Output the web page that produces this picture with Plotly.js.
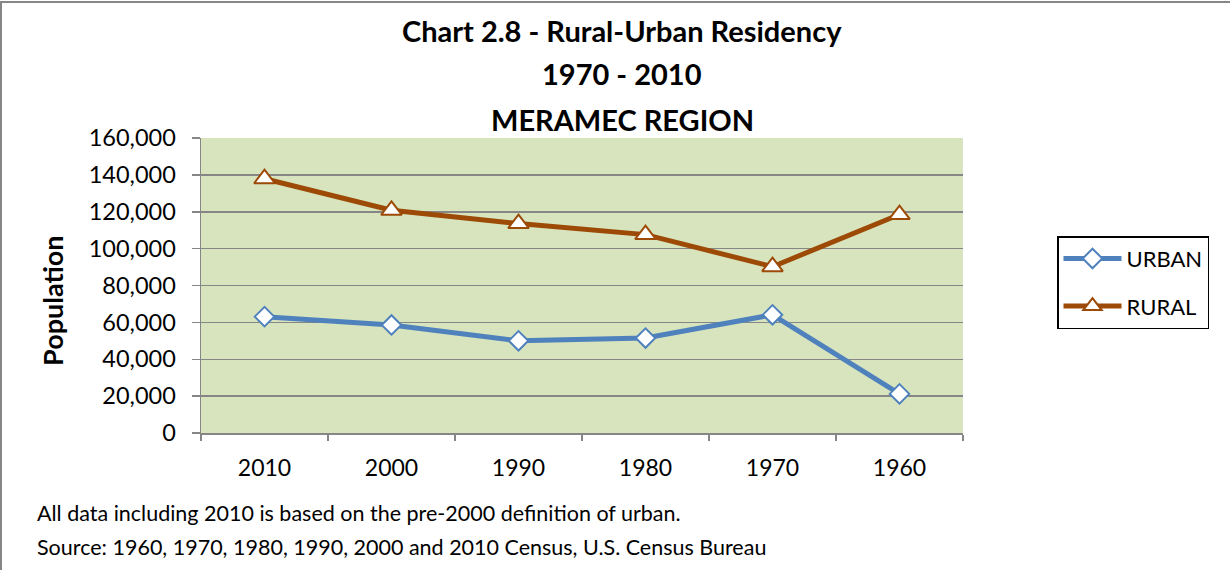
<!DOCTYPE html>
<html>
<head>
<meta charset="utf-8">
<script src="https://cdn.plot.ly/plotly-3.0.1.min.js"></script>
<style>html,body{margin:0;padding:0;background:#fff;}#chart{width:1230px;height:571px;}</style>
</head>
<body>
<div id="chart"></div>
<script>
const years = ["2010", "2000", "1990", "1980", "1970", "1960"];
const urban = [63100, 58600, 50000, 51500, 64100, 21200];
const rural = [137900, 120800, 113600, 107600, 90200, 118500];
const yTicks = [0, 20000, 40000, 60000, 80000, 100000, 120000, 140000, 160000];

const FONT = "Lato, 'Open Sans', sans-serif";
const L = 201, R = 963, T = 137.5, B = 433.5;
const px = x => (x - L) / (R - L);
const py = y => (B - y) / (B - T);

const traces = [
  {
    x: years, y: urban, name: "URBAN", type: "scatter", mode: "lines+markers", legendgroup: "u",
    line: {color: "#4F81BD", width: 5},
    marker: {symbol: "diamond", size: 15, color: "#ffffff", line: {color: "#4F81BD", width: 2}}
  },
  {
    x: years, y: rural, name: "RURAL", type: "scatter", mode: "lines+markers", legendgroup: "r",
    line: {color: "#9C4A06", width: 5},
    marker: {symbol: "triangle-up", size: 18, color: "#ffffff", line: {color: "#9C4A06", width: 2}}
  }
];

const layout = {
  width: 1230, height: 571,
  margin: {l: L, r: 1230 - R, t: T, b: 571 - B},
  paper_bgcolor: "#ffffff",
  plot_bgcolor: "#D7E4BD",
  font: {family: FONT, size: 23, color: "#000"},
  showlegend: true,
  legend: {
    x: px(1057), y: py(236), xanchor: "left", yanchor: "top",
    bordercolor: "#000", borderwidth: 1.5, bgcolor: "#fff",
    font: {family: FONT, size: 22, color: "#000"},
    tracegroupgap: 16, itemwidth: 58, entrywidth: 150
  },
  xaxis: {
    type: "category", range: [-0.5, 5.5],
    tickson: "boundaries", ticks: "outside", ticklen: 6, tickcolor: "#868686", tickwidth: 1.5,
    showline: true, linecolor: "#868686", linewidth: 1.5,
    showgrid: false, zeroline: false, ticklabelstandoff: 14,
    tickfont: {family: FONT, size: 23}
  },
  yaxis: {
    range: [0, 160000], tickvals: yTicks, tickformat: ",",
    ticks: "outside", ticklen: 8, tickcolor: "#868686", tickwidth: 1.5,
    showline: true, linecolor: "#868686", linewidth: 1.5,
    showgrid: true, gridcolor: "#868686", gridwidth: 1.5,
    zeroline: false, ticklabelstandoff: 11,
    tickfont: {family: FONT, size: 23.5}
  },
  annotations: [
    {text: "<b>Chart 2.8 - Rural-Urban Residency</b>", xref: "paper", yref: "paper", x: px(622), y: py(30), xanchor: "center", yanchor: "middle", showarrow: false, font: {family: FONT, size: 29}},
    {text: "<b>1970 - 2010</b>", xref: "paper", yref: "paper", x: px(622), y: py(73), xanchor: "center", yanchor: "middle", showarrow: false, font: {family: FONT, size: 29}},
    {text: "<b>MERAMEC REGION</b>", xref: "paper", yref: "paper", x: px(622), y: py(119), xanchor: "center", yanchor: "middle", showarrow: false, font: {family: FONT, size: 29}},
    {text: "<b>Population</b>", xref: "paper", yref: "paper", x: px(53), y: py(301), xanchor: "center", yanchor: "middle", textangle: -90, showarrow: false, font: {family: FONT, size: 27}},
    {text: "All data including 2010 is based on the pre-2000 definition of urban.", xref: "paper", yref: "paper", x: px(35), y: py(514), xanchor: "left", yanchor: "middle", showarrow: false, font: {family: FONT, size: 21.5}},
    {text: "Source: 1960, 1970, 1980, 1990, 2000 and 2010 Census, U.S. Census Bureau", xref: "paper", yref: "paper", x: px(35), y: py(548), xanchor: "left", yanchor: "middle", showarrow: false, font: {family: FONT, size: 21.5}}
  ],
  shapes: [
    {type: "line", xref: "paper", yref: "paper", x0: px(1), x1: px(1), y0: py(0), y1: py(571), line: {color: "#868686", width: 2}},
    {type: "line", xref: "paper", yref: "paper", x0: px(0), x1: px(1230), y0: py(1), y1: py(1), line: {color: "#868686", width: 2}}
  ]
};

Plotly.newPlot("chart", traces, layout, {displayModeBar: false, staticPlot: true});
</script>
</body>
</html>
